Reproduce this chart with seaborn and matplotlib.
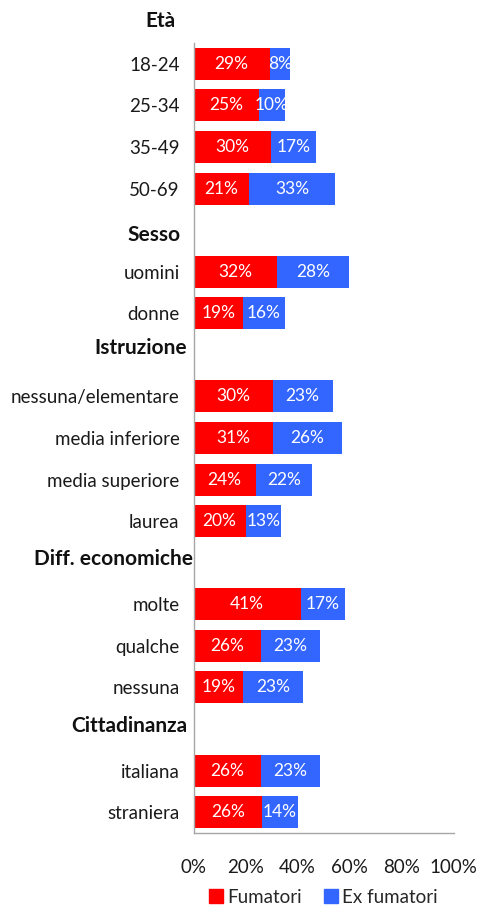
import numpy as np
import pandas as pd
import seaborn as sns
import matplotlib.pyplot as plt
from matplotlib.patches import Patch

# categories top to bottom (group headers are empty rows)
categories = ["18-24", "25-34", "35-49", "50-69",
              "Sesso", "uomini", "donne",
              "Istruzione", "nessuna/elementare", "media inferiore", "media superiore", "laurea",
              "Diff. economiche", "molte", "qualche", "nessuna",
              "Cittadinanza", "italiana", "straniera"]
headers = ["Età", "Sesso", "Istruzione", "Diff. economiche", "Cittadinanza"]
nan = np.nan
fumatori = [29.3, 25.2, 29.8, 21.3, nan, 32.1, 19.0, nan, 30.4, 30.6, 23.9, 20.1,
            nan, 41.3, 26.0, 19.0, nan, 26.0, 26.3]
ex_fumatori = [7.8, 10.0, 17.2, 33.1, nan, 27.7, 16.2, nan, 23.1, 26.4, 21.6, 13.4,
               nan, 17.0, 22.7, 23.1, nan, 22.7, 13.9]
xticks = [0, 20, 40, 60, 80, 100]

RED = "#FF0000"
BLUE = "#3366FF"
GRAY = "#A6A6A6"

sns.set_style("white")
plt.rcParams["font.family"] = ["Lato", "DejaVu Sans"]

df = pd.DataFrame({"cat": categories, "fum": fumatori, "ex": ex_fumatori})
df["tot"] = df["fum"] + df["ex"]

fig = plt.figure(figsize=(4.79, 9.05), dpi=100)
ax = fig.add_axes([193.5 / 479, 1 - 833 / 905, 260 / 479, 790 / 905])

sns.barplot(data=df, x="tot", y="cat", order=categories, color=BLUE, saturation=1,
            width=0.77, errorbar=None, linewidth=0, ax=ax)
sns.barplot(data=df, x="fum", y="cat", order=categories, color=RED, saturation=1,
            width=0.77, errorbar=None, linewidth=0, ax=ax)

# value labels
for i, (f, e) in enumerate(zip(fumatori, ex_fumatori)):
    if np.isnan(f):
        continue
    ax.text(f / 2, i, f"{round(f)}%", ha="center", va="center", color="white", fontsize=12.5)
    ax.text(f + e / 2, i, f"{round(e)}%", ha="center", va="center", color="white", fontsize=12.5)

ax.set_xlim(0, 100)
ax.set_ylim(len(categories) - 0.5, -0.5)
ax.set_xticks(xticks)
ax.set_xticklabels([f"{t}%" for t in xticks], fontsize=13.5, color="#1a1a1a")
ax.set_yticks(range(len(categories)))
ax.set_yticklabels(["" if c in headers else c for c in categories], fontsize=13.5, color="#1a1a1a")
ax.tick_params(axis="y", length=0, pad=10)
ax.tick_params(axis="x", length=5, width=1, color=GRAY, direction="out", pad=14)
ax.set_xlabel("")
ax.set_ylabel("")
for s in ["top", "right"]:
    ax.spines[s].set_visible(False)
for s in ["left", "bottom"]:
    ax.spines[s].set_color(GRAY)
    ax.spines[s].set_linewidth(1)

# group headers (text boxes, slightly nudged like the original)
head_pos = [-1] + [categories.index(h) for h in headers[1:]]
head_dx = [-13, -9, -4.5, 0, -4.5]
head_dy = [1, -3.6, 4.7, 2.9, 2.4]
for h, y, dx, dy in zip(headers, head_pos, head_dx, head_dy):
    ax.annotate(h, xy=(0, y), xycoords=("axes fraction", "data"), xytext=(dx, dy),
                textcoords="offset points", ha="right", va="center",
                fontsize=15, fontweight="bold", color="#111111", annotation_clip=False)

handles = [Patch(color=RED, label="Fumatori"), Patch(color=BLUE, label="Ex fumatori")]
fig.legend(handles=handles, loc="center", bbox_to_anchor=(323.5 / 479, 1 - 897 / 905),
           ncol=2, frameon=False, fontsize=13.5, handlelength=0.75, handleheight=0.75,
           handletextpad=0.2, columnspacing=1.2)

fig.savefig("out.png", dpi=100)
